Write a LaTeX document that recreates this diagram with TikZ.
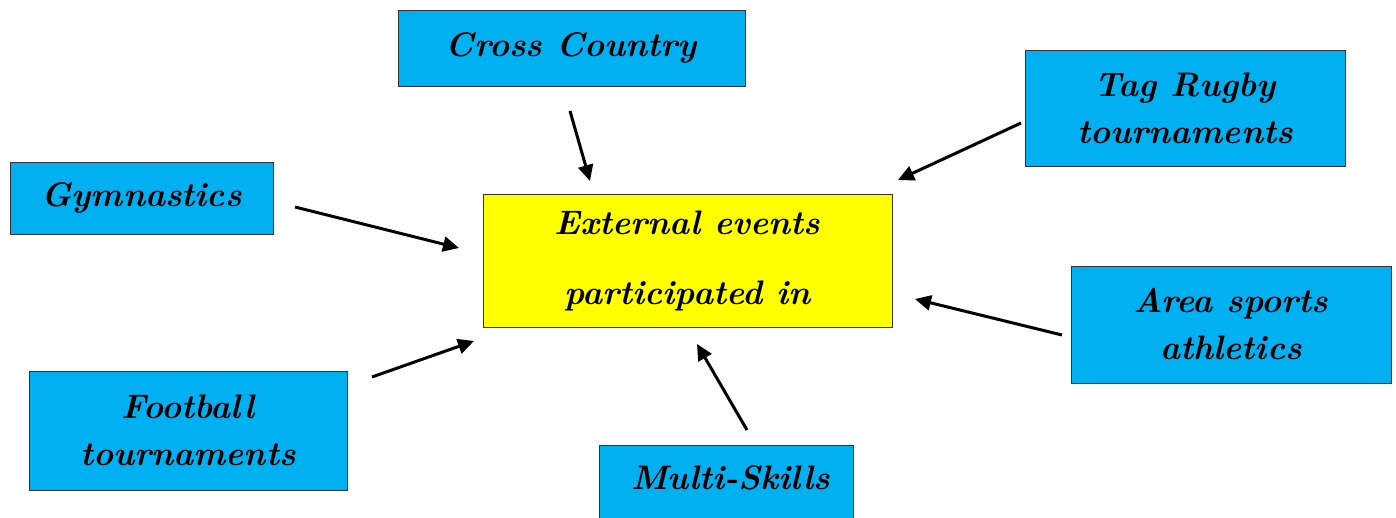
\documentclass[tikz,border=0pt]{standalone}
\usetikzlibrary{arrows.meta}
\definecolor{boxblue}{HTML}{00B0F0}
\definecolor{boxyellow}{HTML}{FFFF00}
\definecolor{edge}{HTML}{333333}
\tikzset{
  sportbox/.style={draw=edge, line width=1pt, fill=boxblue, inner sep=0pt, align=center,
     font=\fontsize{34}{47}\selectfont\bfseries\itshape},
  hubbox/.style={draw=edge, line width=1pt, fill=boxyellow, inner sep=0pt, align=center,
     font=\fontsize{34}{70}\selectfont\bfseries\itshape},
  feed/.style={line width=3pt, -{Triangle[length=16pt,width=15pt]}}
}
\begin{document}
\begin{tikzpicture}[x=1pt,y=-1pt]
\clip (0,0) rectangle (1396,517);
\fill[white] (0,0) rectangle (1396,517);
% boxes
\node[sportbox, minimum width=347pt, minimum height=76pt] (cc) at (571.5,48) {Cross Country};
\node[sportbox, minimum width=320pt, minimum height=116pt] (tr) at (1185,108) {Tag Rugby\\tournaments};
\node[sportbox, minimum width=263pt, minimum height=72pt] (gy) at (141.5,198) {Gymnastics};
\node[hubbox, minimum width=409pt, minimum height=133pt] (hub) at (687.5,260.5) {External events\\participated in};
\node[sportbox, minimum width=320pt, minimum height=117pt] (ar) at (1231,324.5) {Area sports\\athletics};
\node[sportbox, minimum width=318pt, minimum height=119pt] (fb) at (188,430.5) {Football\\tournaments};
\node[draw=edge, line width=1pt, fill=boxblue, minimum width=254pt, minimum height=110pt, inner sep=0pt] (msbox) at (726,500) {};
\node[font=\fontsize{34}{47}\selectfont\bfseries\itshape] (ms) at (731,478) {Multi-Skills};
% arrow end points
\coordinate (cc1) at (570,111); \coordinate (cc2) at (590,181);
\coordinate (tr1) at (1021,123); \coordinate (tr2) at (898,180);
\coordinate (gy1) at (295,207); \coordinate (gy2) at (459,248);
\coordinate (ar1) at (1062,335); \coordinate (ar2) at (915,299);
\coordinate (fb1) at (372,377); \coordinate (fb2) at (474,341);
\coordinate (ms1) at (747,430); \coordinate (ms2) at (697,344);
\draw[feed] (cc1) -- (cc2);
\draw[feed] (tr1) -- (tr2);
\draw[feed] (gy1) -- (gy2);
\draw[feed] (ar1) -- (ar2);
\draw[feed] (fb1) -- (fb2);
\draw[feed] (ms1) -- (ms2);
\end{tikzpicture}
\end{document}
